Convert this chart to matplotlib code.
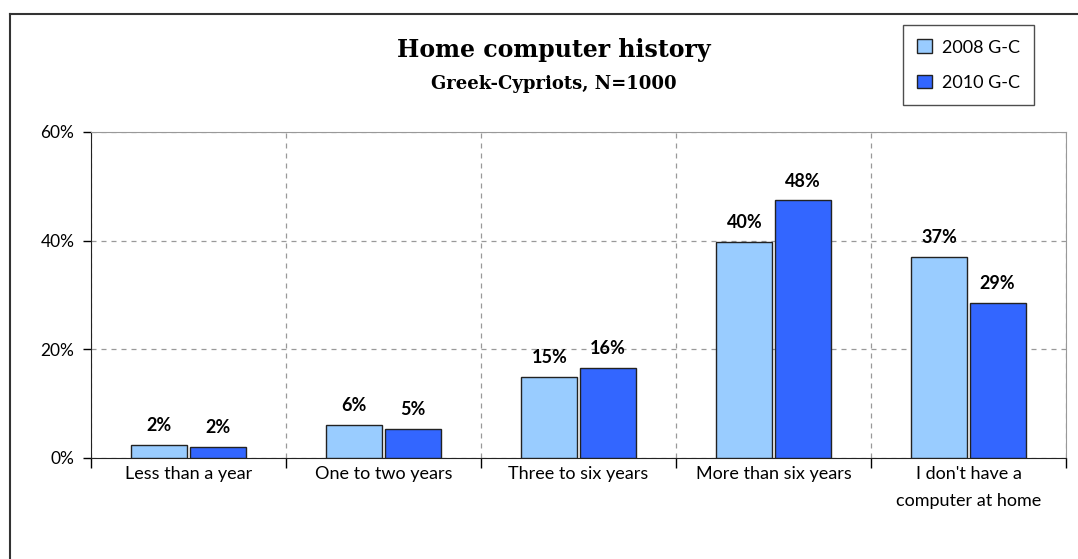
import matplotlib
matplotlib.use("Agg")
import matplotlib.pyplot as plt
import numpy as np
from matplotlib.lines import Line2D

categories = ["Less than a year", "One to two years", "Three to six years",
              "More than six years", "I don't have a\ncomputer at home"]
vals_2008 = [2.4, 6.1, 14.9, 39.8, 37.0]
vals_2010 = [2.0, 5.3, 16.6, 47.4, 28.5]
labels_2008 = ["2%", "6%", "15%", "40%", "37%"]
labels_2010 = ["2%", "5%", "16%", "48%", "29%"]
series_names = ["2008 G-C", "2010 G-C"]
yticks = [0, 20, 40, 60]
ytick_labels = ["0%", "20%", "40%", "60%"]

c1 = "#99CCFF"
c2 = "#3366FF"
font = "Lato"

fig = plt.figure(figsize=(10.78, 5.59), dpi=100)
ax = fig.add_axes([91/1078, 1-458/559, (1066-91)/1078, (458-132)/559])

x = np.arange(len(categories))
w = 0.287
g = 0.006
ax.bar(x - w/2 - g, vals_2008, w, color=c1, edgecolor="#222222", linewidth=1.0, label=series_names[0], zorder=3)
ax.bar(x + w/2 + g, vals_2010, w, color=c2, edgecolor="#222222", linewidth=1.0, label=series_names[1], zorder=3)

for i in range(len(categories)):
    ax.text(x[i] - w/2 - g, vals_2008[i] + 2.0, labels_2008[i], ha="center", va="bottom",
            fontsize=13, fontweight="bold", family=font, zorder=4)
    ax.text(x[i] + w/2 + g, vals_2010[i] + 2.0, labels_2010[i], ha="center", va="bottom",
            fontsize=13, fontweight="bold", family=font, zorder=4)

ax.set_xlim(-0.5, len(categories) - 0.5)
ax.set_ylim(0, 60)
ax.set_yticks(yticks)
ax.set_yticklabels(ytick_labels, family=font, fontsize=12.5)
ax.set_xticks(x)
ax.set_xticklabels(categories, family=font, fontsize=13, linespacing=1.85)
ax.tick_params(axis="x", length=0, pad=6)
ax.tick_params(axis="y", length=6, direction="out", width=1, pad=6)
ax.set_xticks(np.arange(-0.5, len(categories)), minor=True)
ax.tick_params(axis="x", which="minor", length=7, direction="out", width=1)

ax.grid(axis="y", linestyle=(0, (4, 4)), color="#999999", linewidth=0.9, zorder=0)
ax.grid(axis="x", which="minor", linestyle=(0, (4, 4)), color="#999999", linewidth=0.9, zorder=0)
ax.grid(axis="x", which="major", visible=False)

ax.spines["top"].set_color("#999999")
ax.spines["right"].set_color("#999999")
ax.spines["left"].set_color("#222222")
ax.spines["bottom"].set_color("#222222")

fig.text(554/1078, 1-50/559, "Home computer history", ha="center", va="center",
         fontsize=17, fontweight="bold", family="DejaVu Serif")
fig.text(554/1078, 1-84/559, "Greek-Cypriots, N=1000", ha="center", va="center",
         fontsize=13, fontweight="bold", family="DejaVu Serif")

leg = fig.legend(loc="upper left", bbox_to_anchor=(903/1078, 1-25/559), frameon=True,
                 fancybox=False, edgecolor="#222222", prop={"family": font, "size": 13},
                 handlelength=0.8, handleheight=0.8, labelspacing=1.05, borderpad=0.8,
                 handletextpad=0.55, borderaxespad=0)
leg.get_frame().set_linewidth(1.0)
for t in leg.get_texts():
    pass

# outer chart frame (top and left edges visible)
fig.add_artist(Line2D([10/1078, 1.0], [1-14/559, 1-14/559], transform=fig.transFigure,
                      color="#333333", linewidth=1.5))
fig.add_artist(Line2D([10/1078, 10/1078], [0, 1-14/559], transform=fig.transFigure,
                      color="#333333", linewidth=1.5))

fig.savefig("out.png", dpi=100)
